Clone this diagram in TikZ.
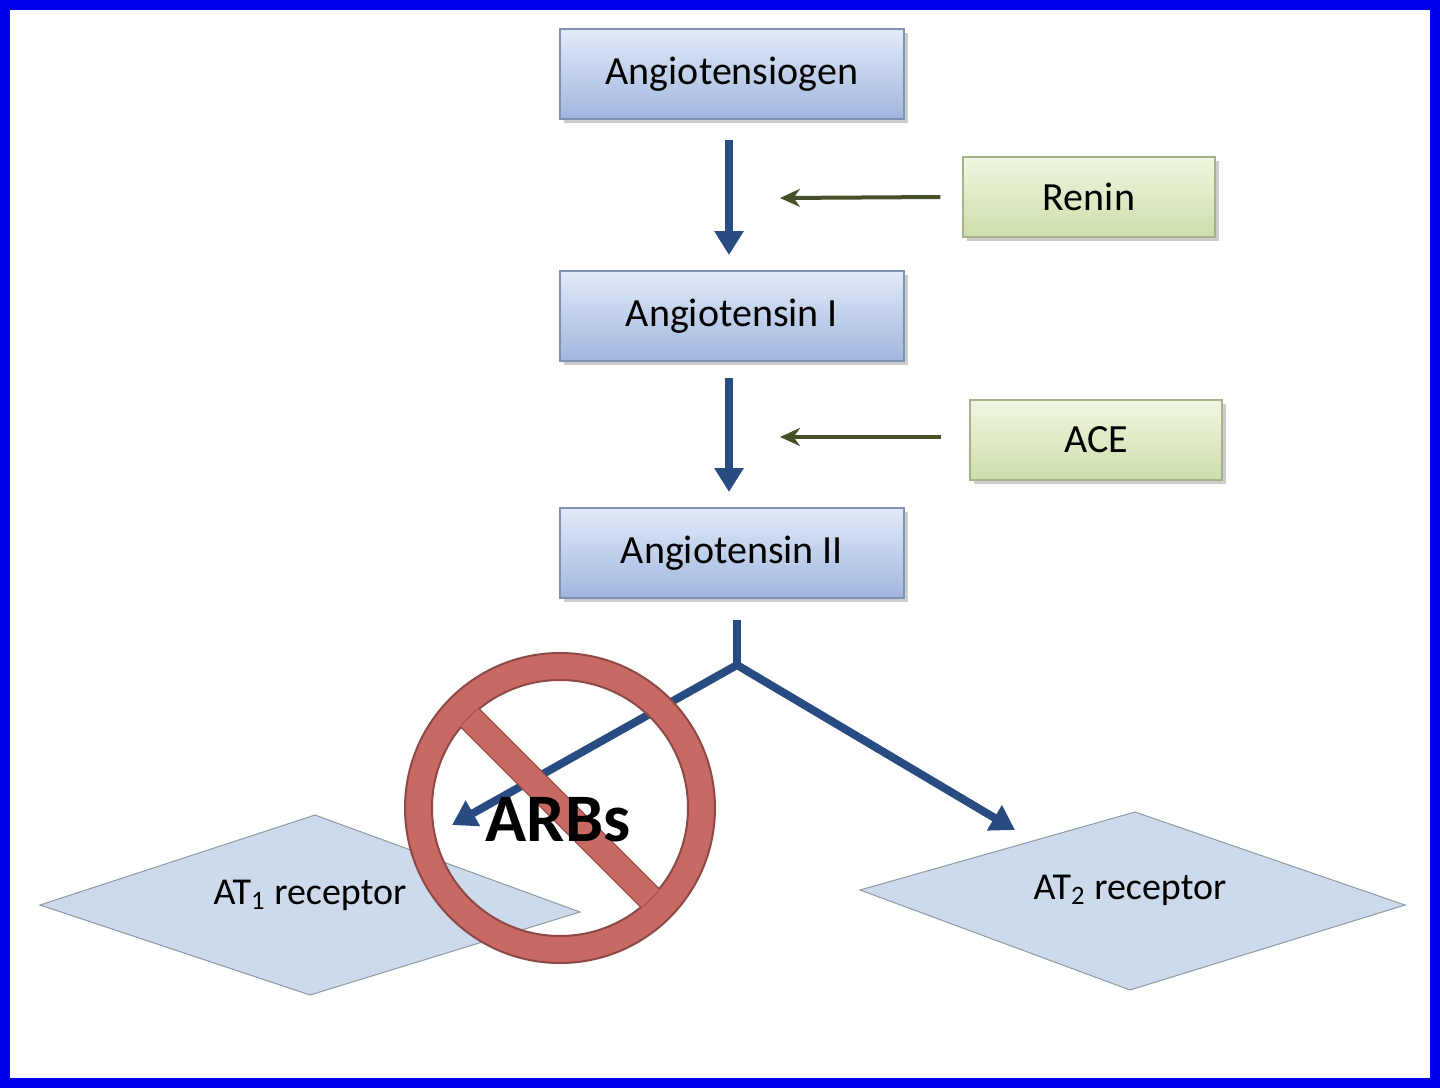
\documentclass[tikz,border=0pt]{standalone}
\usepackage{fontspec}
\setmainfont{Carlito}
\usetikzlibrary{arrows.meta,shadows}
\definecolor{frameblue}{RGB}{0,0,240}
\definecolor{boxtop}{RGB}{225,234,248}
\definecolor{boxbot}{RGB}{160,182,222}
\definecolor{gtop}{RGB}{240,246,225}
\definecolor{gbot}{RGB}{205,222,170}
\definecolor{arrblue}{RGB}{40,75,130}
\definecolor{olive}{RGB}{70,80,40}
\definecolor{dia}{RGB}{205,218,235}
\definecolor{ringred}{RGB}{200,105,100}
\begin{document}
\begin{tikzpicture}[x=0.5pt,y=-0.5pt,
  bbox/.style={draw=boxbot!80!black,line width=0.6pt,top color=boxtop,bottom color=boxbot,minimum width=172pt,minimum height=45pt,font=\fontsize{20}{24}\selectfont,drop shadow={opacity=0.4,shadow xshift=2pt,shadow yshift=-2pt}},
  gbox/.style={draw=gbot!80!black,line width=0.6pt,top color=gtop,bottom color=gbot,minimum width=126pt,minimum height=40pt,font=\fontsize{20}{24}\selectfont,drop shadow={opacity=0.4,shadow xshift=2pt,shadow yshift=-2pt}},
  mainarr/.style={arrblue,line width=4pt,-{Triangle[length=12pt,width=14pt]}},
  enzarr/.style={olive,line width=2pt,-{Stealth[length=10pt,width=9pt]}},
  dtext/.style={font=\fontsize{19}{22}\selectfont}]
\fill[frameblue] (0,0) rectangle (1440,1088);
\fill[white] (10,10) rectangle (1430,1078);
\node[bbox] (ag) at (732,74) {Angiotensiogen};
\node[bbox] (a1) at (732,316) {Angiotensin I};
\node[bbox] (a2) at (732,553) {Angiotensin II};
\node[gbox] (ren) at (1089,197) {Renin};
\node[gbox] (ace) at (1096,440) {ACE};
\draw[mainarr] (729,140) -- (729,255);
\draw[mainarr] (729,378) -- (729,492);
\coordinate (renend) at (780,198);
\coordinate (aceend) at (780,437);
\draw[enzarr] (ren.west)++(-22,0) -- (renend);
\draw[enzarr] (ace.west)++(-28,-3) -- (aceend);
% diamonds
\filldraw[fill=dia,draw=dia!70!black,line width=0.5pt] (40,905) -- (315,815) -- (580,912) -- (310,995) -- cycle;
\filldraw[fill=dia,draw=dia!70!black,line width=0.5pt] (860,890) -- (1135,812) -- (1405,905) -- (1130,990) -- cycle;
\node[dtext] (at1) at (310,895) {AT\textsubscript{1} receptor};
\node[dtext] (at2) at (1130,890) {AT\textsubscript{2} receptor};
% branch
\coordinate (b0) at (737,620);
\coordinate (b1) at (737,665);
\coordinate (l) at (452,825);
\coordinate (r) at (1015,830);
\draw[arrblue,line width=4pt] (b0) -- (b1);
\draw[mainarr] (b1) -- (l);
\draw[mainarr] (b1) -- (r);
% prohibition sign
\draw[ringred!70!black,line width=1pt,fill=ringred,even odd rule] (560,808) circle (155) (560,808) circle (128);
\fill[ringred,rotate around={-45:(560,808)}] (432,795) rectangle (688,821);
\draw[ringred!70!black,line width=0.5pt,rotate around={-45:(560,808)}] (432,795) -- (688,795) (432,821) -- (688,821);
\node[font=\fontsize{34}{40}\selectfont\bfseries] (arbs) at (558,820) {ARBs};
\end{tikzpicture}
\end{document}
